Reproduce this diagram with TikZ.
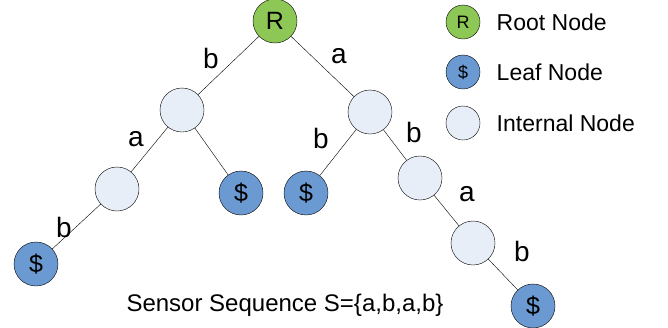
\documentclass[tikz,border=0pt]{standalone}
\usepackage{fontspec}
\setmainfont{Liberation Sans}
\usetikzlibrary{positioning}
\definecolor{rootgreen}{HTML}{8DC755}
\definecolor{leafblue}{HTML}{6B9AD2}
\definecolor{innerfill}{HTML}{E8EEF7}

\begin{document}
\begin{tikzpicture}[x=1pt,y=-1pt,
	tnode/.style={circle,draw,thin,minimum size=44pt,inner sep=0pt,font=\fontsize{25}{25}\selectfont},
	root/.style={tnode,fill=rootgreen},
	leaf/.style={tnode,fill=leafblue},
	inner/.style={tnode,fill=innerfill},
	small/.style={minimum size=34pt,font=\fontsize{18}{18}\selectfont},
	lbl/.style={font=\fontsize{23}{23}\selectfont},
	elbl/.style={font=\fontsize{28}{28}\selectfont,inner sep=0pt,shift={#1}}]
	\useasboundingbox (0,0) rectangle (668,327);
	% tree
	\node[root] (r) at (275,21) {R};
	\node[inner] (n1) at (182,110) {};
	\node[inner] (n2) at (370,112) {};
	\node[inner] (n3) at (117,189) {};
	\node[leaf] (s1) at (241,193) {\$};
	\node[leaf] (s2) at (36,264) {\$};
	\node[leaf] (s3) at (306,193) {\$};
	\node[inner] (n4) at (420,178) {};
	\node[inner] (n5) at (473,243) {};
	\node[leaf] (s4) at (533,306) {\$};
	\path
	(r) edge node[elbl={(-17.5,-7.5)}] {b} (n1)
		edge node[elbl={(16.5,-10.5)}] {a} (n2)
	(n1) edge node[elbl={(-13.5,-10.5)}] {a} (n3)
		edge (s1)
	(n3) edge node[elbl={(-12.5,0.5)}] {b} (s2)
	(n2) edge node[elbl={(-17,-14.5)}] {b} (s3)
		edge node[elbl={(19,-13)}] {b} (n4)
	(n4) edge node[elbl={(20.5,-16.5)}] {a} (n5)
	(n5) edge node[elbl={(19,-23.5)}] {b} (s4);
	% legend
	\node[root,small] (kr) at (463,22) {R};
	\node[leaf,small] (kl) at (463,72) {\$};
	\node[inner,small] (ki) at (463,123) {};
	\node[lbl,right=13pt of kr] {Root Node};
	\node[lbl,right=13pt of kl] {Leaf Node};
	\node[lbl,right=13pt of ki] {Internal Node};
	\node[font=\fontsize{24}{24}\selectfont] (seq) at (285,305) {Sensor Sequence S=\{a,b,a,b\}};
\end{tikzpicture}
\end{document}
